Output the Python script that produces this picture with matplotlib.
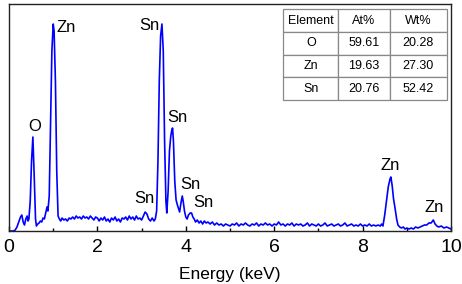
import matplotlib.pyplot as plt
from matplotlib.ticker import MultipleLocator

plt.rcParams['font.family'] = ['Liberation Sans', 'DejaVu Sans']

# EDS spectrum (energy in keV, counts in arbitrary units)
energy = [
    0.00, 0.10, 0.14, 0.18, 0.22, 0.26, 0.29, 0.32, 0.35, 0.38, 0.41, 0.43, 0.45,
    0.48, 0.51, 0.54, 0.57, 0.60, 0.62, 0.65, 0.68, 0.71, 0.74, 0.77, 0.80, 0.83,
    0.86, 0.88, 0.91, 0.94, 0.97, 1.00, 1.02, 1.05, 1.08, 1.11, 1.14, 1.17, 1.20,
    1.24, 1.28, 1.32, 1.36, 1.40, 1.44, 1.48, 1.52, 1.56, 1.60, 1.64, 1.68, 1.72,
    1.76, 1.80, 1.84, 1.88, 1.92, 1.96, 2.00, 2.04, 2.08, 2.12, 2.16, 2.20, 2.24,
    2.28, 2.32, 2.36, 2.40, 2.44, 2.48, 2.52, 2.56, 2.60, 2.64, 2.68, 2.72, 2.76,
    2.80, 2.84, 2.88, 2.92, 2.96, 3.00, 3.04, 3.08, 3.12, 3.16, 3.20, 3.24, 3.28,
    3.31, 3.34, 3.37, 3.40, 3.43, 3.46, 3.49, 3.52, 3.55, 3.57, 3.60, 3.63, 3.66,
    3.68, 3.70, 3.72, 3.75, 3.78, 3.81, 3.84, 3.86, 3.89, 3.92, 3.94, 3.97, 4.00,
    4.03, 4.06, 4.10, 4.13, 4.16, 4.19, 4.22, 4.26, 4.30, 4.34, 4.38, 4.42, 4.46,
    4.50, 4.55, 4.60, 4.65, 4.70, 4.75, 4.80, 4.85, 4.90, 4.95, 5.00, 5.05, 5.10,
    5.15, 5.20, 5.25, 5.30, 5.35, 5.40, 5.45, 5.50, 5.55, 5.60, 5.65, 5.70, 5.75,
    5.80, 5.85, 5.90, 5.95, 6.00, 6.05, 6.10, 6.15, 6.20, 6.25, 6.30, 6.35, 6.40,
    6.45, 6.50, 6.55, 6.60, 6.65, 6.70, 6.75, 6.80, 6.85, 6.90, 6.95, 7.00, 7.05,
    7.10, 7.15, 7.20, 7.25, 7.30, 7.35, 7.40, 7.45, 7.50, 7.55, 7.60, 7.65, 7.70,
    7.75, 7.80, 7.85, 7.90, 7.95, 8.00, 8.05, 8.10, 8.15, 8.20, 8.25, 8.30, 8.35,
    8.40, 8.43, 8.46, 8.50, 8.54, 8.58, 8.62, 8.64, 8.67, 8.70, 8.73, 8.77, 8.80,
    8.84, 8.88, 8.92, 8.96, 9.00, 9.05, 9.10, 9.15, 9.20, 9.25, 9.30, 9.35, 9.40,
    9.45, 9.50, 9.55, 9.60, 9.64, 9.68, 9.72, 9.78, 9.84, 9.90, 9.95, 10.00,
]
counts = [
    0, 0, 1, 4, 9, 14, 16, 9, 6, 12, 15, 10, 12,
    30, 70, 94, 55, 12, 5, 7, 8, 10, 9, 13, 12, 18,
    24, 20, 35, 110, 180, 207, 200, 150, 60, 15, 12, 10, 13,
    11, 12, 10, 13, 12, 14, 12, 15, 13, 14, 12, 15, 13,
    14, 12, 15, 13, 11, 14, 13, 10, 13, 11, 14, 10, 12,
    9, 13, 11, 14, 10, 12, 9, 13, 12, 14, 11, 15, 12,
    14, 11, 15, 12, 13, 11, 15, 19, 17, 12, 10, 13, 10,
    12, 20, 70, 150, 195, 207, 180, 90, 30, 18, 40, 80, 95,
    100, 103, 90, 50, 31, 26, 22, 19, 28, 35, 30, 20, 14,
    12, 16, 18, 18, 14, 12, 9, 11, 8, 10, 7, 10, 8,
    9, 7, 9, 6, 8, 6, 7, 5, 7, 6, 5, 7, 6,
    8, 5, 7, 6, 8, 6, 5, 7, 6, 8, 5, 7, 6,
    8, 6, 7, 5, 7, 6, 9, 6, 7, 5, 7, 6, 8,
    5, 7, 6, 7, 5, 6, 8, 5, 7, 6, 5, 7, 5,
    6, 8, 5, 6, 7, 5, 6, 7, 5, 6, 8, 5, 6,
    7, 5, 6, 5, 7, 5, 6, 5, 7, 5, 6, 5, 6,
    5, 7, 5, 16, 30, 44, 52, 54, 45, 32, 24, 12, 6,
    4, 3, 4, 2, 3, 2, 3, 2, 4, 3, 4, 5, 6,
    6, 8, 8, 11, 7, 5, 4, 5, 3, 4, 3, 2,
]

# peak labels
peak_labels = ['O', 'Zn', 'Sn', 'Sn', 'Sn', 'Sn', 'Sn', 'Zn', 'Zn']
label_x = [0.59, 1.29, 3.17, 3.07, 3.81, 4.10, 4.40, 8.62, 9.62]
label_y = [105, 204, 206, 33, 114, 47, 29, 66, 24]

# composition table
table_header = ['Element', 'At%', 'Wt%']
elements = ['O', 'Zn', 'Sn']
at_pct = ['59.61', '19.63', '20.76']
wt_pct = ['20.28', '27.30', '52.42']

fig = plt.figure(figsize=(4.62, 2.84), dpi=100)
ax = fig.add_axes([0.0195, 0.1866, 0.9567, 0.7993])

ax.plot(energy, counts, color='#0000ff', lw=1.2)

for lab, x, y in zip(peak_labels, label_x, label_y):
    ax.text(x, y, lab, fontsize=12, ha='center', va='center')

ax.set_xlim(0, 10)
ax.set_ylim(0, 227)
ax.set_yticks([])
ax.xaxis.set_major_locator(MultipleLocator(2))
ax.xaxis.set_minor_locator(MultipleLocator(1))
ax.tick_params(axis='x', which='both', direction='in', top=False, labelsize=14, pad=6)
ax.tick_params(axis='x', which='major', length=3.5, width=1)
ax.tick_params(axis='x', which='minor', length=2.5, width=1)
ax.set_xlabel('Energy (keV)', fontsize=12.5, labelpad=8)
for sp in ax.spines.values():
    sp.set_color('#222222')
    sp.set_linewidth(1.0)

cells = [[e, a, w] for e, a, w in zip(elements, at_pct, wt_pct)]
tbl = ax.table(cellText=cells, colLabels=table_header,
               colWidths=[55, 51, 57], cellLoc='center',
               bbox=[0.6206, 0.577, 0.3697, 0.3996])
tbl.auto_set_font_size(False)
tbl.set_fontsize(9)
for cell in tbl.get_celld().values():
    cell.set_edgecolor('#888888')
    cell.set_linewidth(0.9)

fig.savefig('out.png', dpi=100)
